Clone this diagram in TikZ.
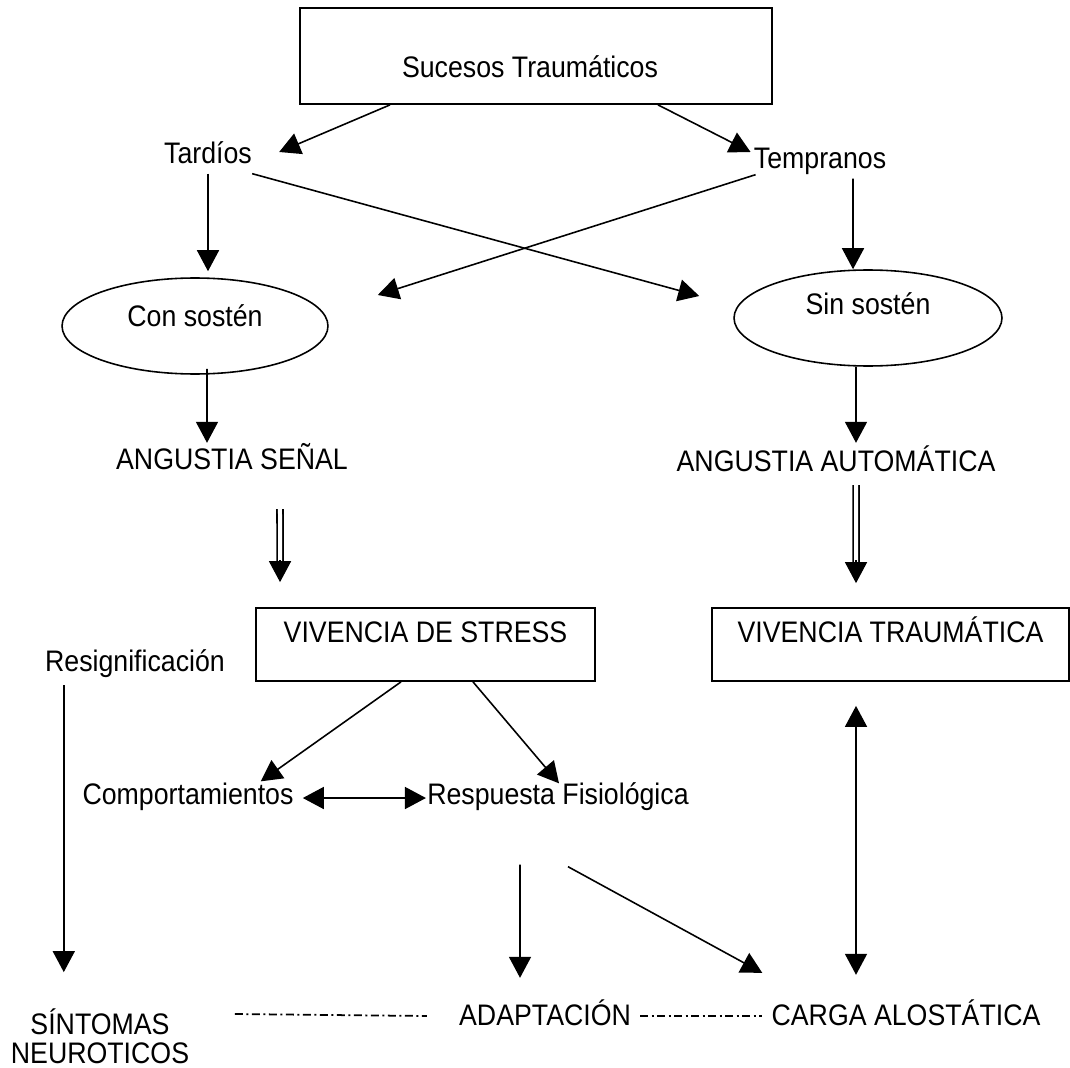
\documentclass[tikz,border=0pt]{standalone}
\usepackage{fontspec}
\setmainfont{Liberation Sans}[FakeStretch=0.9]
\usetikzlibrary{arrows.meta,shapes.geometric}
\tikzset{
  tip/.tip={Triangle[length=0.42cm,width=0.44cm]},
  arr/.style={-tip,line width=0.9pt},
  twoway/.style={tip-tip,line width=0.9pt},
  dbl/.style={double,double distance=0.08cm,line width=1pt},
  box/.style={draw,line width=1pt,inner sep=0pt},
  oval/.style={draw,ellipse,line width=0.9pt,inner sep=0pt},
  txt/.style={inner sep=0pt,text height=0.72em,text depth=0pt},
  dashdot line/.style={line width=1pt,dash pattern=on 0.16cm off 0.07cm on 0.04cm off 0.07cm}
}
\begin{document}
\begin{tikzpicture}[x=0.02cm,y=-0.02cm,font=\fontsize{16.9}{17}\selectfont]
\useasboundingbox (0,0) rectangle (1070,1067);

\node[box,minimum width=9.44cm,minimum height=1.92cm,
  label={[txt,xshift=-0.12cm,yshift=-0.3cm]center:Sucesos Traumáticos}] (suc) at (536,56) {};
\node[txt] (tar) at (208,157) {Tardíos};
\node[txt] (tem) at (820,162) {Tempranos};
\node[oval,minimum width=5.32cm,minimum height=1.92cm,
  label={[txt,yshift=0.12cm]center:Con sostén}] (con) at (195,326) {};
\node[oval,minimum width=5.36cm,minimum height=1.92cm,
  label={[txt,yshift=0.2cm]center:Sin sostén}] (sin) at (868,318) {};
\node[txt] (as) at (232,463) {ANGUSTIA SEÑAL};
\node[txt] (aa) at (836,465) {ANGUSTIA AUTOMÁTICA};
\node[box,minimum width=6.78cm,minimum height=1.46cm,
  label={[txt,yshift=0.16cm]center:VIVENCIA DE STRESS}] (vs) at (425.5,644.5) {};
\node[box,minimum width=7.14cm,minimum height=1.46cm,
  label={[txt,yshift=0.16cm]center:VIVENCIA TRAUMÁTICA}] (vt) at (890.5,644.5) {};
\node[txt] (res) at (135,665) {Resignificación};
\node[txt] (comp) at (188,798) {Comportamientos};
\node[txt] (resp) at (558,798) {Respuesta Fisiológica};
\node[inner sep=0pt,align=center,anchor=north] (sint) at (100,1008) {SÍNTOMAS\\NEUROTICOS};
\node[txt] (adap) at (545,1019) {ADAPTACIÓN};
\node[txt] (carga) at (906,1019) {CARGA ALOSTÁTICA};

\draw[arr] ([xshift=-2.92cm]suc.south) -- ([xshift=0.54cm,yshift=0.1cm]tar.east);
\draw[arr] ([xshift=2.44cm]suc.south) -- ([xshift=-0.06cm,yshift=0.2cm]tem.west);
\draw[arr,shorten >=0.12cm] ([yshift=-0.2cm]tar.south) -- (tar.south |- con.north);
\draw[arr] ([yshift=-0.2cm]tar.south east) -- ([xshift=-0.68cm,yshift=0.44cm]sin.west);
\draw[arr] ([xshift=0.04cm,yshift=-0.12cm]tem.south west) -- ([xshift=0.98cm,yshift=0.62cm]con.east);
\draw[arr] ([xshift=0.66cm,yshift=-0.2cm]tem.south) -- ([xshift=-0.3cm]sin.north);
\draw[arr] ([xshift=0.24cm,yshift=0.12cm]con.south) -- ([xshift=-0.5cm,yshift=0.27cm]as.north);
\draw[arr] ([xshift=-0.24cm]sin.south) -- ([xshift=0.4cm,yshift=0.31cm]aa.north);

\draw[dbl] ([xshift=0.96cm,yshift=-0.79cm]as.south) -- ([xshift=-2.91cm,yshift=0.9cm]vs.north);
\draw[arr] ([xshift=-2.91cm,yshift=0.94cm]vs.north) -- ([xshift=-2.91cm,yshift=0.5cm]vs.north);
\draw[dbl] ([xshift=0.4cm,yshift=-0.27cm]aa.south) -- ([xshift=-0.69cm,yshift=0.9cm]vt.north);
\draw[arr] ([xshift=-0.69cm,yshift=0.94cm]vt.north) -- ([xshift=-0.69cm,yshift=0.48cm]vt.north);

\draw[arr] ([xshift=-0.49cm]vs.south) -- ([xshift=-0.66cm,yshift=0.2cm]comp.north east);
\draw[arr] ([xshift=0.95cm]vs.south) -- ([xshift=0.02cm,yshift=0.16cm]resp.north);
\draw[twoway] ([xshift=0.18cm]comp.east) -- ([xshift=-0.02cm]resp.west);
\draw[arr] ([xshift=0.38cm,yshift=-0.27cm]res.south west) -- ([xshift=0.38cm,yshift=-6.01cm]res.south west);
\draw[arr] ([xshift=-0.76cm,yshift=-1.2cm]resp.south) -- ([xshift=-0.5cm,yshift=0.69cm]adap.north);
\draw[arr] ([xshift=0.2cm,yshift=-1.24cm]resp.south) -- ([xshift=-0.18cm,yshift=0.79cm]carga.north west);
\draw[twoway] ([xshift=-0.69cm,yshift=-0.48cm]vt.south) -- ([xshift=-1.0cm,yshift=0.75cm]carga.north);

\draw[dashdot line] ([xshift=0.91cm,yshift=-0.12cm]sint.north east) -- ([xshift=-0.64cm,yshift=0.06cm]adap.west);
\draw[dashdot line] ([xshift=0.18cm,yshift=0.06cm]adap.east) -- ([xshift=-0.18cm,yshift=0.06cm]carga.west);
\end{tikzpicture}
\end{document}
